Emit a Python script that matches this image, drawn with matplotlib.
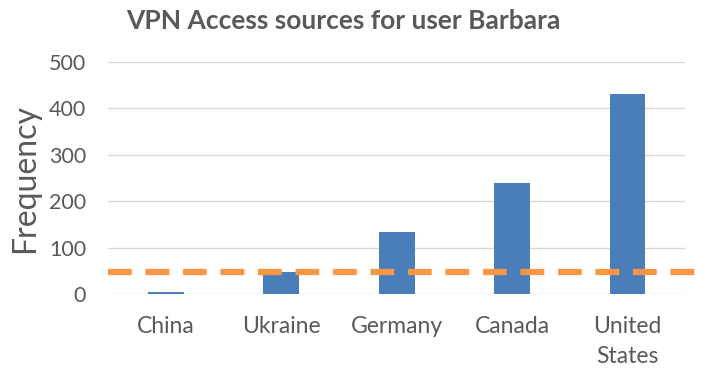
import matplotlib.pyplot as plt

countries = ["China", "Ukraine", "Germany", "Canada", "United\nStates"]
freq = [5, 47, 133, 240, 430]
threshold = 47
yticks = [0, 100, 200, 300, 400, 500]

plt.rcParams['font.family'] = ['Lato', 'DejaVu Sans']
grey = "#595959"

fig = plt.figure(figsize=(7.22, 3.9), dpi=100)
ax = fig.add_axes([0.15, 0.246, 0.799, 0.595])

x = range(len(countries))
ax.bar(x, freq, width=0.31, color="#4a7ebb", zorder=2)
ax.plot([-0.5, 4.6], [threshold, threshold], color="#f79646", lw=4.5,
        dashes=(3.8, 2.2), clip_on=False, zorder=3)

ax.set_xlim(-0.5, 4.5)
ax.set_ylim(0, 500)
ax.set_yticks(yticks)
ax.set_xticks(list(x))
ax.set_xticklabels(countries, fontsize=16.5, color=grey, linespacing=1.5)
ax.tick_params(axis='y', labelsize=15.5, labelcolor=grey, length=0, pad=16)
ax.tick_params(axis='x', length=0, pad=16)
ax.grid(axis='y', color="#d9d9d9", lw=1, zorder=0)
for s in ax.spines.values():
    s.set_visible(False)

ax.set_ylabel("Frequency", fontsize=23, color=grey, labelpad=6)
fig.text(0.476, 0.945, "VPN Access sources for user Barbara", ha='center',
         va='center', fontsize=19, fontweight='bold', color=grey)

fig.savefig("out.png", dpi=100)
